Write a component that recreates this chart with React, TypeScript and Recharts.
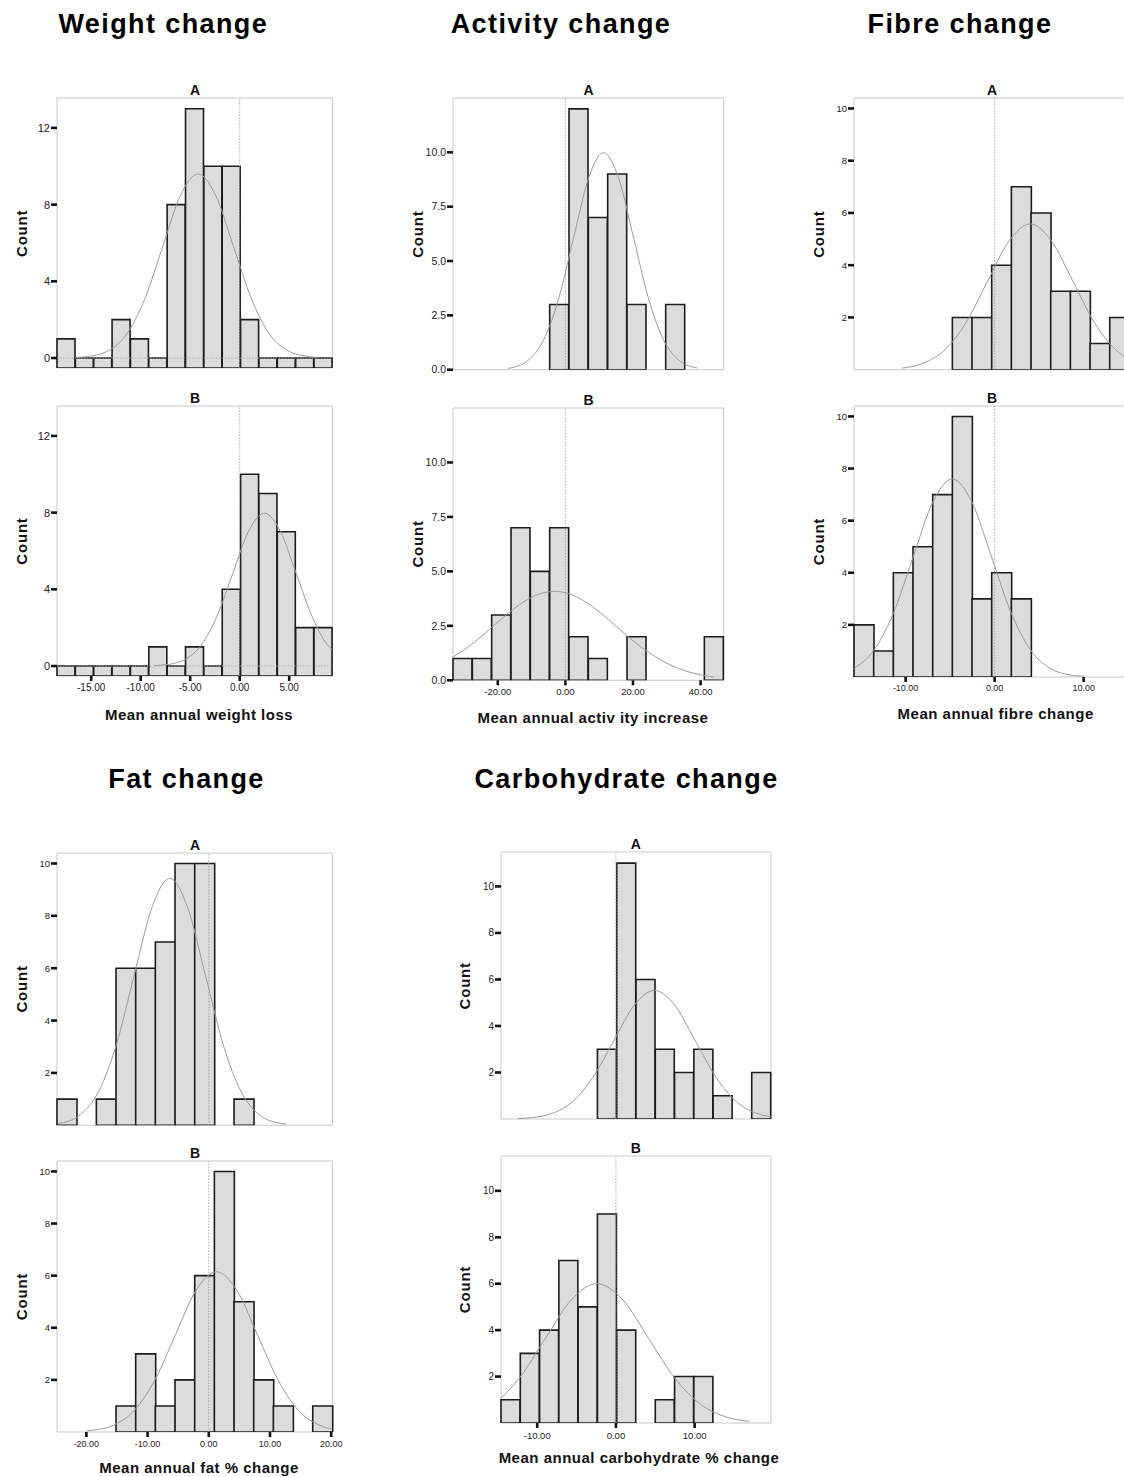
import React from 'react';
import { ComposedChart, Bar, Line, XAxis, YAxis, ReferenceLine, ReferenceArea } from 'recharts';

// ---------------- data ----------------
// Weight change (15 bins)
const weightBinStart = -18.45;
const weightBinWidth = 1.854;
const weightCountsA = [1, 0, 0, 2, 1, 0, 8, 13, 10, 10, 2, 0, 0, 0, 0];
const weightCountsB = [0, 0, 0, 0, 0, 1, 0, 1, 0, 4, 10, 9, 7, 2, 2];
const weightXTicks = [-15, -10, -5, 0, 5];
const weightYTicks = [0, 4, 8, 12];
const weightCurveA = [[-16.5, 0.03], [-14.91, 0.11], [-13.13, 0.42], [-11.34, 1.3], [-9.56, 3.12], [-7.77, 5.82], [-5.99, 8.47], [-4.2, 9.6], [-2.42, 8.47], [-0.63, 5.82], [1.16, 3.12], [2.94, 1.3], [4.73, 0.42], [6.51, 0.11], [7.8, 0.03]];
const weightCurveB = [[-8.7, 0.02], [-7.1, 0.09], [-5.5, 0.35], [-3.9, 1.08], [-2.3, 2.59], [-0.7, 4.83], [0.9, 7.03], [2.5, 7.97], [4.1, 7.03], [5.7, 4.83], [7.3, 2.59], [8.9, 1.08], [9.36, 0.85]];

// Activity change (14 bins)
const activityBinStart = -33.25;
const activityBinWidth = 5.72;
const activityCountsA = [0, 0, 0, 0, 0, 3, 12, 7, 9, 3, 0, 3, 0, 0];
const activityCountsB = [1, 1, 3, 7, 5, 7, 2, 1, 0, 2, 0, 0, 0, 2];
const activityXTicks = [-20, 0, 20, 40];
const activityYTicks = [0, 2.5, 5, 7.5, 10];
const activityCurveA = [[-17, 0.06], [-15.4, 0.11], [-10.95, 0.44], [-6.5, 1.35], [-2.05, 3.24], [2.4, 6.05], [6.85, 8.81], [11.3, 9.98], [15.75, 8.81], [20.2, 6.05], [24.65, 3.24], [29.1, 1.35], [33.55, 0.44], [38, 0.11], [39, 0.08]];
const activityCurveB = [[-33.25, 1.06], [-30.65, 1.33], [-26.1, 1.85], [-21.5, 2.47], [-16.9, 3.08], [-12.35, 3.6], [-7.8, 3.96], [-3.2, 4.08], [1.4, 3.96], [5.95, 3.6], [10.5, 3.08], [15.1, 2.47], [19.7, 1.85], [24.25, 1.33], [28.8, 0.88], [33.4, 0.55], [38, 0.32], [42.55, 0.18], [44, 0.15]];

// Fibre change (14 bins)
const fibreBinStart = -15.8;
const fibreBinWidth = 2.21;
const fibreCountsA = [0, 0, 0, 0, 0, 2, 2, 4, 7, 6, 3, 3, 1, 2];
const fibreCountsB = [2, 1, 4, 5, 7, 10, 3, 4, 3, 0, 0, 0, 0, 0];
const fibreXTicks = [-10, 0, 10];
const fibreYTicks = [2, 4, 6, 8, 10];
const fibreCurveA = [[-10.4, 0.06], [-8, 0.25], [-5.6, 0.76], [-3.2, 1.81], [-0.8, 3.38], [1.6, 4.92], [4, 5.58], [6.4, 4.92], [8.8, 3.38], [11.2, 1.81], [13.6, 0.76], [16, 0.25]];
const fibreCurveB = [[-15.8, 0.33], [-13.55, 1.03], [-11.35, 2.47], [-9.15, 4.61], [-6.95, 6.71], [-4.75, 7.6], [-2.55, 6.71], [-0.35, 4.61], [1.85, 2.47], [4.05, 1.03], [6.25, 0.33], [8.45, 0.08], [10, 0.03]];

// Fat change (14 bins)
const fatBinStart = -24.8;
const fatBinWidth = 3.214;
const fatCountsA = [1, 0, 1, 6, 6, 7, 10, 10, 0, 1, 0, 0, 0, 0];
const fatCountsB = [0, 0, 0, 1, 3, 1, 2, 6, 10, 5, 2, 1, 0, 1];
const fatXTicks = [-20, -10, 0, 10, 20];
const fatYTicks = [2, 4, 6, 8, 10];
const fatCurveA = [[-24.6, 0.07], [-23.86, 0.1], [-20.95, 0.41], [-18.03, 1.28], [-15.12, 3.06], [-12.2, 5.72], [-9.29, 8.32], [-6.37, 9.43], [-3.46, 8.32], [-0.54, 5.72], [2.38, 3.06], [5.29, 1.28], [8.21, 0.41], [11.12, 0.1], [12.7, 0.05]];
const fatCurveB = [[-20, 0.04], [-18.85, 0.07], [-15.5, 0.27], [-12.15, 0.83], [-8.8, 2], [-5.45, 3.73], [-2.1, 5.43], [1.25, 6.15], [4.6, 5.43], [7.95, 3.73], [11.3, 2], [14.65, 0.83], [18, 0.27], [20.2, 0.11]];

// Carbohydrate change (14 bins)
const carbBinStart = -14.6;
const carbBinWidth = 2.45;
const carbCountsA = [0, 0, 0, 0, 0, 3, 11, 6, 3, 2, 3, 1, 0, 2];
const carbCountsB = [1, 3, 4, 7, 5, 9, 4, 0, 1, 2, 2, 0, 0, 0];
const carbXTicks = [-10, 0, 10];
const carbYTicks = [2, 4, 6, 8, 10];
const carbCurveA = [[-12.4, 0.02], [-10.7, 0.06], [-8.1, 0.24], [-5.5, 0.75], [-2.9, 1.8], [-0.3, 3.35], [2.3, 4.88], [4.9, 5.53], [7.5, 4.88], [10.1, 3.35], [12.7, 1.8], [15.3, 0.75], [17.9, 0.24], [19.7, 0.1]];
const carbCurveB = [[-14.6, 1.06], [-12.24, 1.95], [-8.96, 3.64], [-5.68, 5.3], [-2.4, 6], [0.88, 5.3], [4.16, 3.64], [7.44, 1.95], [10.72, 0.81], [14, 0.26], [17, 0.07]];

// ---------------- styling ----------------
const FONT = '"Liberation Sans", Arial, Helvetica, sans-serif';
const BAR_FILL = '#dcdcdc';
const BAR_STROKE = '#1c1c1c';
const FRAME = '#c9c9c9';
const CURVE = '#9c9c9c';

type PanelCfg = {
  counts: number[];
  binStart: number;
  binWidth: number;
  curve: number[][];
  yDomain: [number, number];
  yTicks: number[];
  yFmt: (v: number) => string;
  xTicks: number[];
  showX: boolean;
  x0: number;
  y0: number;
  w: number;
  h: number;
  zeroLine?: boolean;
  xFont: number;
  yFont: number;
  xMargin: number;
};

const YW = 44;
const MT = 3;
const MR = 22;
const XH = 28;

function Panel(p: PanelCfg) {
  const lo = p.binStart;
  const hi = p.binStart + p.counts.length * p.binWidth;
  const base = p.yDomain[0];
  const data = p.counts.map((c, i) => ({ bin: i, count: c, base }));
  const curveData = p.curve.map(([x, y]) => ({ x, y }));
  const width = p.w + YW + MR;
  const height = MT + p.h + XH;
  return (
    <div style={{ position: 'absolute', left: p.x0 - YW, top: p.y0 - MT }}>
      <ComposedChart
        width={width}
        height={height}
        data={data}
        margin={{ top: MT, right: MR, bottom: 0, left: 0 }}
        barCategoryGap={0}
        barGap={0}
      >
        <XAxis
          xAxisId="num"
          dataKey="x"
          type="number"
          orientation="bottom"
          domain={[lo, hi]}
          allowDataOverflow
          ticks={p.xTicks}
          interval={0}
          height={XH}
          axisLine={false}
          tickLine={{ stroke: '#111', strokeWidth: 2.6 }}
          tickSize={5}
          tickMargin={p.xMargin}
          tick={p.showX ? { fontSize: p.xFont, fill: '#222', fontFamily: FONT } : false}
          tickFormatter={(v: number) => v.toFixed(2)}
        />
        <XAxis xAxisId="cat" dataKey="bin" type="category" orientation="top" height={0} hide />
        <YAxis
          type="number"
          domain={p.yDomain}
          allowDataOverflow
          ticks={p.yTicks}
          interval={0}
          width={YW}
          axisLine={false}
          tickLine={{ stroke: '#111', strokeWidth: 2.6 }}
          tickSize={6}
          tickMargin={1}
          tick={{ fontSize: p.yFont, fill: '#222', fontFamily: FONT }}
          tickFormatter={p.yFmt}
        />
        <ReferenceArea
          xAxisId="num"
          x1={lo}
          x2={hi}
          y1={p.yDomain[0]}
          y2={p.yDomain[1]}
          fill="none"
          fillOpacity={0}
          stroke={FRAME}
          strokeWidth={1}
          ifOverflow="visible"
        />
        {p.zeroLine && (
          <ReferenceLine xAxisId="num" y={0} stroke="#aaa" strokeWidth={0.8} strokeDasharray="1.5 1.5" />
        )}
        <Bar
          xAxisId="cat"
          dataKey={(d: { base: number; count: number }) => [d.base, d.count]}
          fill={BAR_FILL}
          stroke={BAR_STROKE}
          strokeWidth={1.6}
          isAnimationActive={false}
        />
        <ReferenceLine xAxisId="num" x={0} stroke="#999" strokeWidth={0.8} strokeDasharray="1.5 1.5" />
        <Line
          xAxisId="num"
          data={curveData}
          dataKey="y"
          type="monotone"
          stroke={CURVE}
          strokeWidth={1}
          dot={false}
          activeDot={false}
          isAnimationActive={false}
        />
      </ComposedChart>
    </div>
  );
}

const intFmt = (v: number) => String(v);
const oneFmt = (v: number) => v.toFixed(1);

const panels: PanelCfg[] = [
  // Weight
  { counts: weightCountsA, binStart: weightBinStart, binWidth: weightBinWidth, curve: weightCurveA, yDomain: [-0.52, 13.56], yTicks: weightYTicks, yFmt: intFmt, xTicks: weightXTicks, showX: false, x0: 57.3, y0: 98.3, w: 275.4, h: 270, zeroLine: true, xFont: 10, yFont: 11, xMargin: 3 },
  { counts: weightCountsB, binStart: weightBinStart, binWidth: weightBinWidth, curve: weightCurveB, yDomain: [-0.52, 13.56], yTicks: weightYTicks, yFmt: intFmt, xTicks: weightXTicks, showX: true, x0: 57.3, y0: 406, w: 275.4, h: 270, zeroLine: true, xFont: 10, yFont: 11, xMargin: 3 },
  // Activity
  { counts: activityCountsA, binStart: activityBinStart, binWidth: activityBinWidth, curve: activityCurveA, yDomain: [0, 12.5], yTicks: activityYTicks, yFmt: oneFmt, xTicks: activityXTicks, showX: false, x0: 453.3, y0: 98.3, w: 270.7, h: 271.7, xFont: 9.5, yFont: 10.5, xMargin: 3 },
  { counts: activityCountsB, binStart: activityBinStart, binWidth: activityBinWidth, curve: activityCurveB, yDomain: [0, 12.5], yTicks: activityYTicks, yFmt: oneFmt, xTicks: activityXTicks, showX: true, x0: 453.3, y0: 407.7, w: 270.7, h: 272.3, xFont: 9.5, yFont: 10.5, xMargin: 3 },
  // Fibre
  { counts: fibreCountsA, binStart: fibreBinStart, binWidth: fibreBinWidth, curve: fibreCurveA, yDomain: [0, 10.4], yTicks: fibreYTicks, yFmt: intFmt, xTicks: fibreXTicks, showX: false, x0: 854.3, y0: 98.3, w: 275.4, h: 271.7, xFont: 9, yFont: 9.5, xMargin: 3 },
  { counts: fibreCountsB, binStart: fibreBinStart, binWidth: fibreBinWidth, curve: fibreCurveB, yDomain: [0, 10.4], yTicks: fibreYTicks, yFmt: intFmt, xTicks: fibreXTicks, showX: true, x0: 854.3, y0: 406, w: 275.4, h: 271, xFont: 9, yFont: 9.5, xMargin: 3 },
  // Fat
  { counts: fatCountsA, binStart: fatBinStart, binWidth: fatBinWidth, curve: fatCurveA, yDomain: [0, 10.4], yTicks: fatYTicks, yFmt: intFmt, xTicks: fatXTicks, showX: false, x0: 57.3, y0: 852.7, w: 275.4, h: 272.3, xFont: 9, yFont: 9.5, xMargin: 3.5 },
  { counts: fatCountsB, binStart: fatBinStart, binWidth: fatBinWidth, curve: fatCurveB, yDomain: [0, 10.4], yTicks: fatYTicks, yFmt: intFmt, xTicks: fatXTicks, showX: true, x0: 57.3, y0: 1161, w: 275.4, h: 271, xFont: 9, yFont: 9.5, xMargin: 3.5 },
  // Carbohydrate
  { counts: carbCountsA, binStart: carbBinStart, binWidth: carbBinWidth, curve: carbCurveA, yDomain: [0, 11.48], yTicks: carbYTicks, yFmt: intFmt, xTicks: carbXTicks, showX: false, x0: 500.7, y0: 852.3, w: 270, h: 267, xFont: 9.5, yFont: 10, xMargin: 4 },
  { counts: carbCountsB, binStart: carbBinStart, binWidth: carbBinWidth, curve: carbCurveB, yDomain: [0, 11.5], yTicks: carbYTicks, yFmt: intFmt, xTicks: carbXTicks, showX: true, x0: 500.7, y0: 1156, w: 270, h: 267, xFont: 9.5, yFont: 10, xMargin: 4 },
];

const titles = [
  { text: 'Weight change', x: 163.3, y: 33.3 },
  { text: 'Activity change', x: 561, y: 33.3 },
  { text: 'Fibre change', x: 960, y: 33.3 },
  { text: 'Fat change', x: 186.5, y: 787.5 },
  { text: 'Carbohydrate change', x: 626.5, y: 787.5 },
];

const xLabels = [
  { text: 'Mean annual weight loss', x: 199, y: 720 },
  { text: 'Mean annual activ ity increase', x: 593, y: 723 },
  { text: 'Mean annual fibre change', x: 995.7, y: 719.3 },
  { text: 'Mean annual fat % change', x: 199, y: 1473.3 },
  { text: 'Mean annual carbohydrate % change', x: 639, y: 1462.7 },
];

const panelLetters = ['A', 'B', 'A', 'B', 'A', 'B', 'A', 'B', 'A', 'B'];

export default function App() {
  return (
    <div
      style={{
        position: 'absolute',
        left: 0,
        top: 0,
        width: 1124,
        height: 1477,
        overflow: 'hidden',
        background: '#fff',
        fontFamily: FONT,
      }}
    >
      {panels.map((p, i) => (
        <Panel key={i} {...p} />
      ))}
      <svg
        width={1124}
        height={1477}
        style={{ position: 'absolute', left: 0, top: 0, pointerEvents: 'none' }}
        fontFamily={FONT}
      >
        {titles.map((t, i) => (
          <text key={'t' + i} x={t.x} y={t.y} textAnchor="middle" fontSize={27} fontWeight="bold" letterSpacing={1.4} fill="#000">
            {t.text}
          </text>
        ))}
        {xLabels.map((t, i) => (
          <text key={'x' + i} x={t.x} y={t.y} textAnchor="middle" fontSize={15} fontWeight="bold" letterSpacing={0.5} fill="#111">
            {t.text}
          </text>
        ))}
        {panels.map((p, i) => (
          <text key={'l' + i} x={p.x0 + p.w / 2} y={p.y0 - 3} textAnchor="middle" fontSize={14} fontWeight="bold" fill="#111">
            {panelLetters[i]}
          </text>
        ))}
        {panels.map((p, i) => {
          const bx = p.x0 - 30.5;
          const cy = p.y0 + p.h / 2;
          return (
            <text
              key={'c' + i}
              x={bx}
              y={cy}
              transform={`rotate(-90 ${bx} ${cy})`}
              textAnchor="middle"
              fontSize={15}
              fontWeight="bold"
              letterSpacing={0.8}
              fill="#111"
            >
              Count
            </text>
          );
        })}
      </svg>
    </div>
  );
}
